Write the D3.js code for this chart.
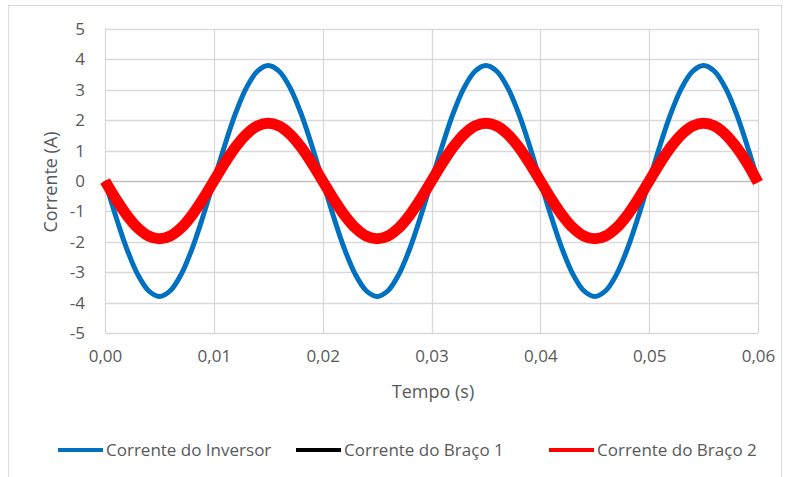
<!DOCTYPE html>
<html>
<head>
<meta charset="utf-8">
<script src="https://cdn.jsdelivr.net/npm/d3@7"></script>
<style>
  body { margin: 0; background: #fff; }
  text { font-family: "Open Sans", "Noto Sans", sans-serif; fill: #595959; }
</style>
</head>
<body>
<div id="chart"></div>
<script>
var width = 788;
var height = 477;
var margin = {top: 29, left: 105, right: 30, bottom: 144};

// tempo (s), passo de 1 ms
var tempo = d3.range(0, 61).map(function(i) { return +(i * 0.001).toFixed(3); });

var inversor = [
  0, -1.17, -2.23, -3.07, -3.61, -3.8, -3.61, -3.07, -2.23, -1.17,
  0, 1.17, 2.23, 3.07, 3.61, 3.8, 3.61, 3.07, 2.23, 1.17,
  0, -1.17, -2.23, -3.07, -3.61, -3.8, -3.61, -3.07, -2.23, -1.17,
  0, 1.17, 2.23, 3.07, 3.61, 3.8, 3.61, 3.07, 2.23, 1.17,
  0, -1.17, -2.23, -3.07, -3.61, -3.8, -3.61, -3.07, -2.23, -1.17,
  0, 1.17, 2.23, 3.07, 3.61, 3.8, 3.61, 3.07, 2.23, 1.17,
  0
];
var braco1 = [
  0, -0.6, -1.14, -1.57, -1.85, -1.95, -1.85, -1.57, -1.14, -0.6,
  0, 0.58, 1.1, 1.51, 1.78, 1.87, 1.78, 1.51, 1.1, 0.58,
  0, -0.6, -1.14, -1.57, -1.85, -1.95, -1.85, -1.57, -1.14, -0.6,
  0, 0.58, 1.1, 1.51, 1.78, 1.87, 1.78, 1.51, 1.1, 0.58,
  0, -0.6, -1.14, -1.57, -1.85, -1.95, -1.85, -1.57, -1.14, -0.6,
  0, 0.58, 1.1, 1.51, 1.78, 1.87, 1.78, 1.51, 1.1, 0.58,
  0
];
var braco2 = [
  0, -0.59, -1.12, -1.54, -1.81, -1.9, -1.81, -1.54, -1.12, -0.59,
  0, 0.59, 1.12, 1.54, 1.81, 1.9, 1.81, 1.54, 1.12, 0.59,
  0, -0.59, -1.12, -1.54, -1.81, -1.9, -1.81, -1.54, -1.12, -0.59,
  0, 0.59, 1.12, 1.54, 1.81, 1.9, 1.81, 1.54, 1.12, 0.59,
  0, -0.59, -1.12, -1.54, -1.81, -1.9, -1.81, -1.54, -1.12, -0.59,
  0, 0.59, 1.12, 1.54, 1.81, 1.9, 1.81, 1.54, 1.12, 0.59,
  -0.05
];

var xTicks = [0, 0.01, 0.02, 0.03, 0.04, 0.05, 0.06];
var yTicks = [-5, -4, -3, -2, -1, 0, 1, 2, 3, 4, 5];

var series = [
  {name: "Corrente do Inversor", values: inversor, color: "#0070C0", w: 5},
  {name: "Corrente do Braço 1", values: braco1, color: "#000000", w: 5},
  {name: "Corrente do Braço 2", values: braco2, color: "#FF0000", w: 11}
];

var svg = d3.select("#chart")
  .append("svg")
  .attr("width", width)
  .attr("height", height);

// borda do gráfico
svg.append("rect")
  .attr("x", 8.5).attr("y", 5.5)
  .attr("width", 773).attr("height", 480)
  .attr("fill", "none")
  .attr("stroke", "#d9d9d9");

var xScale = d3.scaleLinear()
  .domain([0, 0.06])
  .range([margin.left, width - margin.right]);

var yScale = d3.scaleLinear()
  .domain([-5, 5])
  .range([height - margin.bottom, margin.top]);

// grade
svg.append("g")
  .selectAll("line")
  .data(yTicks)
  .enter()
  .append("line")
    .attr("x1", margin.left).attr("x2", width - margin.right)
    .attr("y1", function(d) { return Math.round(yScale(d)) + 0.5; })
    .attr("y2", function(d) { return Math.round(yScale(d)) + 0.5; })
    .attr("stroke", function(d) { return d === 0 ? "#bfbfbf" : "#d9d9d9"; })
    .attr("stroke-width", 1.3);

svg.append("g")
  .selectAll("line")
  .data(xTicks)
  .enter()
  .append("line")
    .attr("x1", function(d) { return Math.round(xScale(d)) + 0.5; })
    .attr("x2", function(d) { return Math.round(xScale(d)) + 0.5; })
    .attr("y1", margin.top).attr("y2", height - margin.bottom)
    .attr("stroke", "#d9d9d9")
    .attr("stroke-width", 1.3);

// eixos (só rótulos)
var xAxis = svg.append("g")
  .attr("transform", `translate(0,${height - margin.bottom})`)
  .call(d3.axisBottom(xScale).tickValues(xTicks).tickSize(0).tickPadding(17)
    .tickFormat(function(d) { return d3.format(".2f")(d).replace(".", ","); }));
xAxis.select(".domain").remove();
xAxis.selectAll("text").style("font-size", "17px").style("fill", "#595959");

var yAxis = svg.append("g")
  .attr("transform", `translate(${margin.left},0)`)
  .call(d3.axisLeft(yScale).tickValues(yTicks).tickSize(0).tickPadding(20)
    .tickFormat(function(d) { return d < 0 ? "-" + Math.abs(d) : d; }));
yAxis.select(".domain").remove();
yAxis.selectAll("text").style("font-size", "17px").style("fill", "#595959");

// títulos
svg.append("text")
  .attr("x", 433).attr("y", 398)
  .attr("text-anchor", "middle")
  .style("font-size", "18px")
  .text("Tempo (s)");

svg.append("text")
  .attr("transform", "translate(57,182) rotate(-90)")
  .attr("text-anchor", "middle")
  .style("font-size", "18px")
  .text("Corrente (A)");

// curvas
var line = d3.line()
  .x(function(d, i) { return xScale(tempo[i]); })
  .y(function(d) { return yScale(d); })
  .curve(d3.curveCatmullRom);

svg.append("g")
  .selectAll("path")
  .data(series)
  .enter()
  .append("path")
    .attr("d", function(s) { return line(s.values); })
    .attr("fill", "none")
    .attr("stroke", function(s) { return s.color; })
    .attr("stroke-width", function(s) { return s.w; })
    .attr("stroke-linejoin", "round");

// legenda
var legendX = [58, 296, 549];
var legend = svg.append("g")
  .selectAll("g")
  .data(series)
  .enter()
  .append("g")
    .attr("transform", function(s, i) { return `translate(${legendX[i]},450)`; });

legend.append("line")
  .attr("x1", 0).attr("x2", 45)
  .attr("stroke", function(s) { return s.color; })
  .attr("stroke-width", 4);

legend.append("text")
  .attr("x", 48)
  .attr("dy", "0.35em")
  .style("font-size", "17px")
  .text(function(s) { return s.name; });
</script>
</body>
</html>
